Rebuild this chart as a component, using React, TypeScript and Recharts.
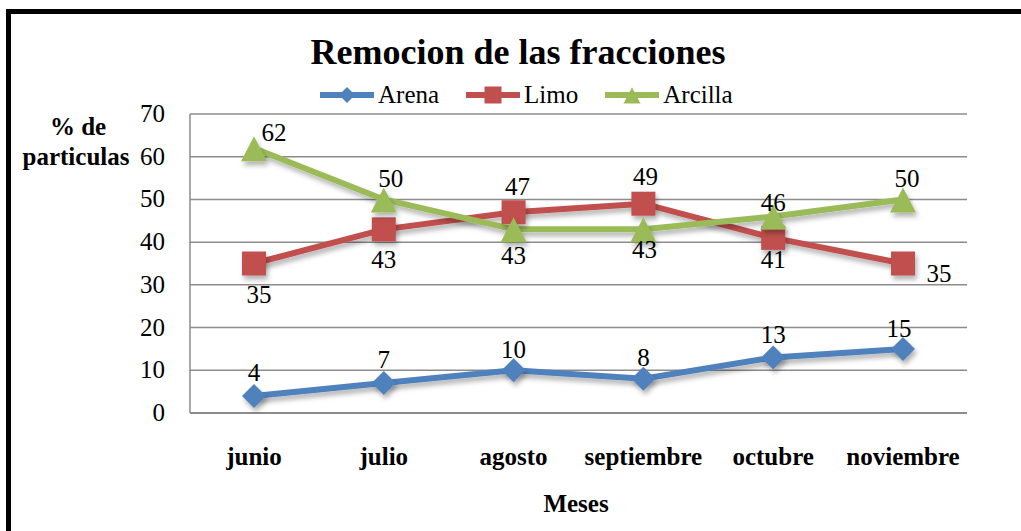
import React from "react"
import { LineChart, Line, XAxis, YAxis, CartesianGrid, LabelList, Legend } from "recharts"

const meses = ["junio", "julio", "agosto", "septiembre", "octubre", "noviembre"]
const arena = [4, 7, 10, 8, 13, 15]
const limo = [35, 43, 47, 49, 41, 35]
const arcilla = [62, 50, 43, 43, 46, 50]
const yTicks = [0, 10, 20, 30, 40, 50, 60, 70]

// desplazamiento de cada etiqueta respecto a su punto
const arenaOffsets = [[0, -23], [0, -23], [0, -20], [0, -21], [0, -22], [-4, -20]]
const limoOffsets = [[5, 31], [0, 31], [4, -25], [2, -27], [0, 22], [36, 10]]
const arcillaOffsets = [[20, -15], [7, -20], [0, 27], [1, 21], [0, -14], [4, -20]]

const data = meses.map((mes, i) => ({
  mes,
  Arena: arena[i],
  Limo: limo[i],
  Arcilla: arcilla[i],
}))

const FONT = "'Liberation Serif', 'Times New Roman', serif"
const BLUE = "#4f81bd"
const RED = "#c0504d"
const GREEN = "#9bbb59"
const GRID = "#8c8c8c"

type ShapeProps = { cx?: number; cy?: number; index?: number }

const Diamond = ({ cx = 0, cy = 0, r = 12, color = BLUE }: { cx?: number; cy?: number; r?: number; color?: string }) => (
  <polygon
    points={`${cx},${cy - r} ${cx + r},${cy} ${cx},${cy + r} ${cx - r},${cy}`}
    fill={color}
  />
)

const Square = ({ cx = 0, cy = 0, s = 24, color = RED }: { cx?: number; cy?: number; s?: number; color?: string }) => (
  <rect x={cx - s / 2} y={cy - s / 2} width={s} height={s} fill={color} />
)

const Triangle = ({ cx = 0, cy = 0, s = 26, color = GREEN }: { cx?: number; cy?: number; s?: number; color?: string }) => (
  <polygon
    points={`${cx},${cy - s * 0.46} ${cx + s / 2},${cy + s * 0.5} ${cx - s / 2},${cy + s * 0.5}`}
    fill={color}
  />
)

const makeLabel = (offsets: number[][]) => (props: any) => {
  const { x, y, value, index } = props
  const [dx, dy] = offsets[index] || [0, -20]
  return (
    <text
      x={Number(x) + dx}
      y={Number(y) + dy + 8}
      textAnchor="middle"
      fontFamily={FONT}
      fontSize={25}
      fill="#000"
    >
      {value}
    </text>
  )
}

const XTick = ({ x, y, payload }: any) => (
  <text x={x} y={y} dy={50} textAnchor="middle" fontFamily={FONT} fontSize={25} fontWeight="bold" fill="#000">
    {payload?.value}
  </text>
)

const YTick = ({ x, y, payload }: any) => (
  <text x={x} y={y} dy={8} textAnchor="end" fontFamily={FONT} fontSize={25} fill="#000">
    {payload?.value}
  </text>
)

const legendItems = [
  { name: "Arena", color: BLUE, icon: <Diamond cx={27} cy={10} r={8} color={BLUE} /> },
  { name: "Limo", color: RED, icon: <Square cx={27} cy={10} s={17} color={RED} /> },
  { name: "Arcilla", color: GREEN, icon: <Triangle cx={27} cy={10} s={17} color={GREEN} /> },
]

const LegendContent = () => (
  <div style={{ display: "flex", alignItems: "center", fontFamily: FONT, fontSize: 25, lineHeight: "28px" }}>
    {legendItems.map((it) => (
      <div key={it.name} style={{ display: "flex", alignItems: "center", marginRight: 27 }}>
        <svg width={54} height={20}>
          <line x1={0} y1={10} x2={54} y2={10} stroke={it.color} strokeWidth={6} />
          {it.icon}
        </svg>
        <span style={{ marginLeft: 4, color: "#000" }}>{it.name}</span>
      </div>
    ))}
  </div>
)

export default function App() {
  return (
    <div style={{ position: "absolute", left: 0, top: 0, width: 1021, height: 531, overflow: "hidden", background: "#fff" }}>
      <svg width={0} height={0} style={{ position: "absolute" }}>
        <defs>
          <filter id="sombra" x="-30%" y="-30%" width="160%" height="180%">
            <feDropShadow dx={2} dy={4} stdDeviation={2.5} floodColor="#000" floodOpacity={0.3} />
          </filter>
        </defs>
      </svg>
      <div
        style={{
          position: "absolute",
          left: 6,
          top: 9,
          width: 1100,
          height: 600,
          borderLeft: "5px solid #000",
          borderTop: "5px solid #000",
        }}
      />
      <LineChart
        width={1021}
        height={531}
        data={data}
        margin={{ top: 114, right: 54, left: 130, bottom: 68 }}
      >
        <CartesianGrid vertical={false} stroke={GRID} strokeWidth={1.5} />
        <XAxis
          dataKey="mes"
          height={50}
          tickLine={false}
          tickSize={0}
          padding={{ left: 64, right: 64 }}
          stroke={GRID}
          strokeWidth={2}
          tick={<XTick />}
          interval={0}
        />
        <YAxis
          width={60}
          domain={[0, 70]}
          ticks={yTicks}
          tickLine={false}
          tickSize={0}
          tickMargin={25}
          stroke={GRID}
          strokeWidth={1.5}
          tick={<YTick />}
        />
        <Legend
          layout="horizontal"
          verticalAlign="middle"
          align="center"
          wrapperStyle={{ top: 81, left: 320, width: 480 }}
          content={<LegendContent />}
        />
        <Line
          dataKey="Arena"
          stroke={BLUE}
          strokeWidth={6}
          isAnimationActive={false}
          style={{ filter: "url(#sombra)" }}
          dot={(p: ShapeProps) => (
            <g key={`a-${p.index}`} filter="url(#sombra)">
              <Diamond cx={p.cx} cy={p.cy} r={12} color={BLUE} />
            </g>
          )}
        >
          <LabelList dataKey="Arena" content={makeLabel(arenaOffsets)} />
        </Line>
        <Line
          dataKey="Limo"
          stroke={RED}
          strokeWidth={6}
          isAnimationActive={false}
          style={{ filter: "url(#sombra)" }}
          dot={(p: ShapeProps) => (
            <g key={`l-${p.index}`} filter="url(#sombra)">
              <Square cx={p.cx} cy={p.cy} s={24} color={RED} />
            </g>
          )}
        >
          <LabelList dataKey="Limo" content={makeLabel(limoOffsets)} />
        </Line>
        <Line
          dataKey="Arcilla"
          stroke={GREEN}
          strokeWidth={6}
          isAnimationActive={false}
          style={{ filter: "url(#sombra)" }}
          dot={(p: ShapeProps) => (
            <g key={`c-${p.index}`} filter="url(#sombra)">
              <Triangle cx={p.cx} cy={p.cy} s={26} color={GREEN} />
            </g>
          )}
        >
          <LabelList dataKey="Arcilla" content={makeLabel(arcillaOffsets)} />
        </Line>
      </LineChart>
      <svg width={1021} height={531} style={{ position: "absolute", left: 0, top: 0, pointerEvents: "none" }}>
        <text x={518} y={64} textAnchor="middle" fontFamily={FONT} fontSize={36} fontWeight="bold" fill="#000">
          Remocion de las fracciones
        </text>
        <text x={78} y={135} textAnchor="middle" fontFamily={FONT} fontSize={25} fontWeight="bold" fill="#000">
          % de
        </text>
        <text x={76} y={165} textAnchor="middle" fontFamily={FONT} fontSize={25} fontWeight="bold" fill="#000">
          particulas
        </text>
        <text x={576} y={512} textAnchor="middle" fontFamily={FONT} fontSize={25} fontWeight="bold" fill="#000">
          Meses
        </text>
      </svg>
    </div>
  )
}
